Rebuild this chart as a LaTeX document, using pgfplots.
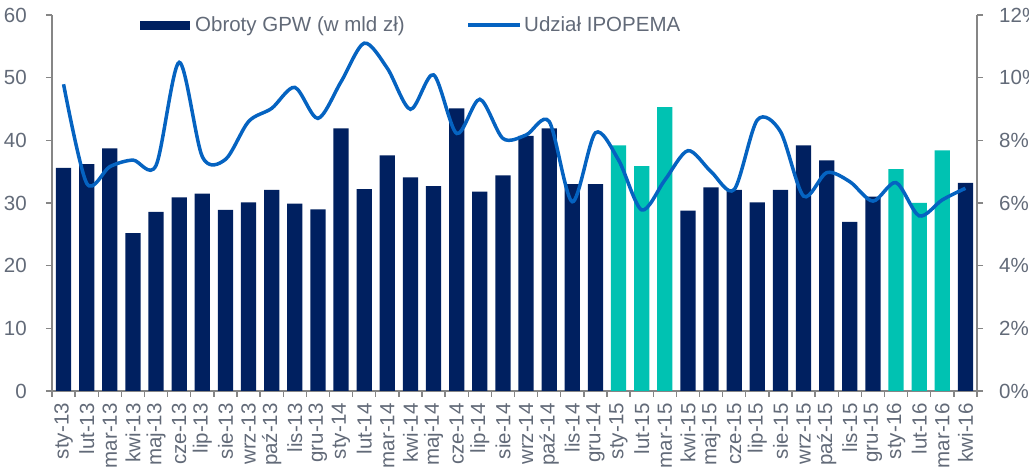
\documentclass[border=0pt]{standalone}
\usepackage{pgfplots}
\pgfplotsset{compat=1.18}
\usepackage{fontspec}
\setmainfont{Liberation Sans}
\definecolor{navy}{RGB}{0,32,96}
\definecolor{teal2}{RGB}{0,194,178}
\definecolor{lineblue}{RGB}{5,99,193}
\definecolor{txtgray}{RGB}{98,106,120}
\definecolor{axgray}{RGB}{134,134,134}
\newcommand{\fs}{\fontsize{20.5}{24}\selectfont}
\begin{document}
\begin{tikzpicture}
\useasboundingbox (0,0) rectangle (1029pt,471pt);
\begin{axis}[
  at={(52pt,80pt)}, anchor=south west,
  width=925pt, height=376pt, scale only axis,
  xmin=-0.5, xmax=39.5, ymin=0, ymax=60,
  axis x line*=bottom, axis y line*=left,
  axis line style={axgray, line width=1.3pt},
  x axis line style={-}, y axis line style={-},
  tick align=outside, tick pos=left,
  /pgf/number format/assume math mode=true,
  every tick label/.append style={font=\fs, text=txtgray},
  ytick={0,10,...,60},
  ytick style={axgray, line width=1.3pt},
  major tick length=6pt, minor tick length=6pt,
  yticklabel style={anchor=east, inner sep=0pt, xshift=-19pt},
  xtick={0,...,39},
  major x tick style={draw=none},
  minor xtick={-0.5,0.5,...,39.5},
  minor x tick style={axgray, line width=1.3pt},
  xticklabels={sty-13,lut-13,mar-13,kwi-13,maj-13,cze-13,lip-13,sie-13,wrz-13,paź-13,lis-13,gru-13,
    sty-14,lut-14,mar-14,kwi-14,maj-14,cze-14,lip-14,sie-14,wrz-14,paź-14,lis-14,gru-14,
    sty-15,lut-15,mar-15,kwi-15,maj-15,cze-15,lip-15,sie-15,wrz-15,paź-15,lis-15,gru-15,
    sty-16,lut-16,mar-16,kwi-16},
  xticklabel style={rotate=90, anchor=east, inner sep=0pt, xshift=-6pt},
  ybar, bar width=15.3pt,
  legend style={at={(0.0951,0.973)}, anchor=west, draw=none, fill=none, inner sep=0pt,
    font=\fs, text=txtgray, legend columns=2,
    /tikz/every even column/.append style={column sep=60pt}},
]
\addplot[fill=navy, draw=none, bar shift=0pt,
  legend image code/.code={\fill[navy] (0pt,-4.5pt) rectangle (50pt,4.5pt);}]
  coordinates {(0,35.6) (1,36.2) (2,38.7) (3,25.2) (4,28.6) (5,30.9) (6,31.5) (7,28.9)
  (8,30.1) (9,32.1) (10,29.9) (11,29.0) (12,41.9) (13,32.2) (14,37.6) (15,34.1) (16,32.7)
  (17,45.1) (18,31.8) (19,34.4) (20,40.7) (21,41.9) (22,33.0) (23,33.0) (27,28.8) (28,32.5)
  (29,32.1) (30,30.1) (31,32.1) (32,39.2) (33,36.8) (34,27.0) (35,31.0) (39,33.2)};
\addlegendentry{\hspace{3pt}Obroty GPW (w mld zł)}
\addplot[fill=teal2, draw=none, bar shift=0pt, forget plot]
  coordinates {(24,39.2) (25,35.9) (26,45.3) (36,35.4) (37,30.0) (38,38.4)};
\addlegendimage{legend image code/.code={\draw[lineblue,line width=3.5pt] (0pt,0pt) -- (52pt,0pt);}}
\addlegendentry{Udział IPOPEMA}
\end{axis}
\begin{axis}[
  at={(52pt,80pt)}, anchor=south west,
  width=925pt, height=376pt, scale only axis,
  xmin=-0.5, xmax=39.5, ymin=0, ymax=12,
  axis x line=none, axis y line*=right,
  axis line style={axgray, line width=1.3pt}, y axis line style={-},
  tick align=outside,
  ytick={0,2,...,12}, ytick style={axgray, line width=1.3pt}, major tick length=6pt,
  /pgf/number format/assume math mode=true,
  yticklabel={\pgfmathprintnumber{\tick}\%},
  yticklabel style={anchor=west, inner sep=0pt, xshift=16pt, font=\fs, text=txtgray},
]
\addplot[lineblue, line width=3.5pt, smooth, tension=0.5] coordinates {
(0,9.79) (1,6.63) (2,7.16) (3,7.37) (4,7.2) (5,10.49) (6,7.48) (7,7.39) (8,8.6) (9,9.02)
(10,9.69) (11,8.7) (12,9.87) (13,11.1) (14,10.3) (15,8.99) (16,10.09) (17,8.22) (18,9.31)
(19,8.06) (20,8.17) (21,8.6) (22,6.04) (23,8.24) (24,7.37) (25,5.78) (26,6.73) (27,7.67)
(28,7.0) (29,6.43) (30,8.65) (31,8.28) (32,6.22) (33,6.97) (34,6.68) (35,6.06) (36,6.65)
(37,5.59) (38,6.1) (39,6.47)};
\end{axis}
\end{tikzpicture}
\end{document}
